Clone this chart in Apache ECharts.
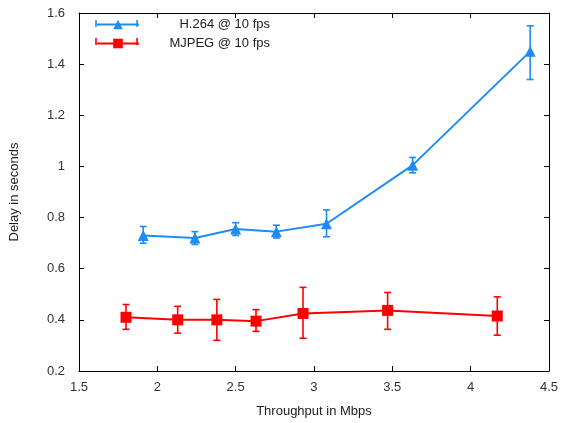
<!DOCTYPE html>
<html>
<head>
<meta charset="utf-8">
<script src="https://cdn.jsdelivr.net/npm/echarts@6/dist/echarts.min.js"></script>
<style>
  html, body { margin: 0; padding: 0; background: #fff; overflow: hidden; }
  #chart { width: 561px; height: 423px; }
</style>
</head>
<body>
<div id="chart"></div>
<script>
// H.264 @ 10 fps: throughput, delay, error-bar low/high
const h264X = [1.91, 2.24, 2.50, 2.76, 3.08, 3.63, 4.38];
const h264Y = [0.73, 0.72, 0.755, 0.745, 0.776, 1.005, 1.45];
const h264Lo = [0.70, 0.695, 0.73, 0.72, 0.725, 0.975, 1.34];
const h264Hi = [0.765, 0.745, 0.78, 0.77, 0.83, 1.035, 1.55];

// MJPEG @ 10 fps
const mjpegX = [1.80, 2.13, 2.38, 2.63, 2.93, 3.47, 4.17];
const mjpegY = [0.41, 0.40, 0.40, 0.395, 0.425, 0.437, 0.415];
const mjpegLo = [0.363, 0.348, 0.32, 0.355, 0.328, 0.363, 0.34];
const mjpegHi = [0.46, 0.453, 0.48, 0.44, 0.527, 0.507, 0.49];

const blue = '#1e8cf5';
const red = '#ff0000';
const font = 'Liberation Sans, Arial, sans-serif';

function pairs(xs, ys) { return xs.map((x, i) => [x, ys[i]]); }
function bars(xs, lo, hi) { return xs.map((x, i) => [x, lo[i], hi[i]]); }

function errorSeries(name, color, data) {
  return {
    type: 'custom',
    name: name,
    data: data,
    z: 3,
    renderItem: function (params, api) {
      const x = api.value(0);
      const lo = api.coord([x, api.value(1)]);
      const hi = api.coord([x, api.value(2)]);
      const cap = 3.5;
      const style = { stroke: color, lineWidth: 1.6 };
      return {
        type: 'group',
        children: [
          { type: 'line', shape: { x1: lo[0], y1: lo[1], x2: hi[0], y2: hi[1] }, style: style },
          { type: 'line', shape: { x1: lo[0] - cap, y1: lo[1], x2: lo[0] + cap, y2: lo[1] }, style: style },
          { type: 'line', shape: { x1: hi[0] - cap, y1: hi[1], x2: hi[0] + cap, y2: hi[1] }, style: style }
        ]
      };
    }
  };
}

const chart = echarts.init(document.getElementById('chart'), null, { renderer: 'canvas' });

const axisLine = { show: true, lineStyle: { color: '#000', width: 1 } };
const axisTick = { show: true, inside: true, length: 5, lineStyle: { color: '#000' } };

chart.setOption({
  animation: false,
  backgroundColor: '#fff',
  grid: { left: 79, right: 9, top: 13, bottom: 50 },
  legend: {
    orient: 'vertical',
    left: 91,
    top: 13,
    itemWidth: 42,
    itemHeight: 12,
    itemGap: 6,
    data: ['H.264 @ 10 fps', 'MJPEG @ 10 fps'],
    formatter: function (name) { return '{a|' + name + '}'; },
    textStyle: {
      fontFamily: font,
      fontSize: 13,
      color: '#222',
      rich: { a: { width: 126, align: 'right', fontFamily: font, fontSize: 13, color: '#222' } }
    }
  },
  graphic: [
    // legend error-bar caps
    { type: 'line', shape: { x1: 96, y1: 20, x2: 96, y2: 27 }, style: { stroke: blue, lineWidth: 1.6 } },
    { type: 'line', shape: { x1: 137, y1: 20, x2: 137, y2: 27 }, style: { stroke: blue, lineWidth: 1.6 } },
    { type: 'line', shape: { x1: 96, y1: 38, x2: 96, y2: 45 }, style: { stroke: red, lineWidth: 1.6 } },
    { type: 'line', shape: { x1: 137, y1: 38, x2: 137, y2: 45 }, style: { stroke: red, lineWidth: 1.6 } }
  ],
  xAxis: [{
    type: 'value',
    min: 1.5, max: 4.5, interval: 0.5,
    name: 'Throughput in Mbps',
    nameLocation: 'middle',
    nameGap: 34,
    nameTextStyle: { fontFamily: font, fontSize: 13, color: '#222' },
    axisLine: axisLine,
    axisTick: axisTick,
    axisLabel: { fontFamily: font, fontSize: 13, color: '#333', margin: 10 },
    splitLine: { show: false }
  }, {
    type: 'value', position: 'top',
    min: 1.5, max: 4.5, interval: 0.5,
    axisLine: axisLine, axisTick: axisTick,
    axisLabel: { show: false }, splitLine: { show: false }
  }],
  yAxis: [{
    type: 'value',
    min: 0.2, max: 1.6, interval: 0.2,
    name: 'Delay in seconds',
    nameLocation: 'middle',
    nameGap: 58,
    nameTextStyle: { fontFamily: font, fontSize: 13, color: '#222' },
    axisLine: axisLine,
    axisTick: axisTick,
    axisLabel: {
      fontFamily: font, fontSize: 13, color: '#333', margin: 14,
      formatter: function (v) { return String(+v.toFixed(1)); }
    },
    splitLine: { show: false }
  }, {
    type: 'value', position: 'right',
    min: 0.2, max: 1.6, interval: 0.2,
    axisLine: axisLine, axisTick: axisTick,
    axisLabel: { show: false }, splitLine: { show: false }
  }],
  series: [
    {
      name: 'H.264 @ 10 fps',
      type: 'line',
      data: pairs(h264X, h264Y),
      symbol: 'triangle',
      symbolSize: 11,
      itemStyle: { color: blue },
      lineStyle: { color: blue, width: 2 },
      z: 4
    },
    {
      name: 'MJPEG @ 10 fps',
      type: 'line',
      data: pairs(mjpegX, mjpegY),
      symbol: 'rect',
      symbolSize: 11,
      itemStyle: { color: red },
      lineStyle: { color: red, width: 2 },
      z: 4
    },
    errorSeries('h264err', blue, bars(h264X, h264Lo, h264Hi)),
    errorSeries('mjpegerr', red, bars(mjpegX, mjpegLo, mjpegHi))
  ]
});
</script>
</body>
</html>
